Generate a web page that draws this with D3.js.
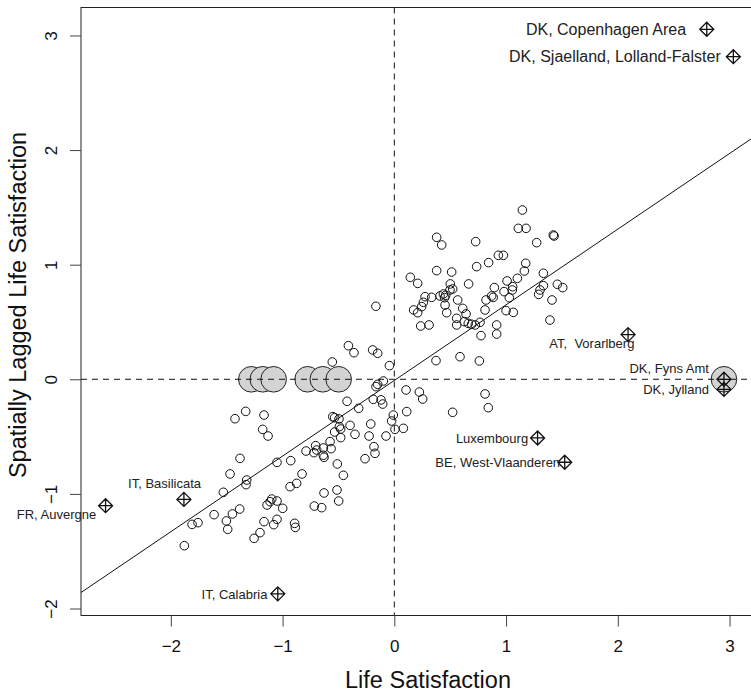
<!DOCTYPE html>
<html>
<head>
<meta charset="utf-8">
<script src="https://d3js.org/d3.v7.min.js"></script>
<style>
  body { margin: 0; background: #fff; }
  svg { font-family: 'Liberation Sans', Arial, Helvetica, sans-serif; }
</style>
</head>
<body>
<svg width="751" height="693"></svg>
<script>
// regions: standardised life satisfaction vs its spatial lag
const lifeSat = [
  1.146, 1.110, 1.179, 1.423, 1.430, 0.379, 0.424, 0.728, 1.274, 0.931,
  0.976, 1.176, 0.844, 0.737, 0.379, 0.513, 1.164, 1.334, 0.143, 1.101,
  1.009, 0.209, 0.665, 0.501, 1.459, 1.507, 1.334, 0.895, 1.059, 1.056,
  0.522, 0.498, 1.304, 1.292, 0.982, 0.439, 0.409, 0.460, 0.450, 0.275,
  0.334, 0.871, 0.885, 1.029, 0.821, 0.260, 0.567, 1.411, 0.245, 0.454,
  0.612, 0.173, 0.209, 0.812, 1.000, 1.065, 0.469, 0.642, 0.558, 1.393,
  0.627, 0.662, 0.692, 0.725, 0.767, 0.558, 0.311, 0.236, 0.916, 0.916,
  0.776, 0.588, 0.373, 0.761, -0.044,
  0.105, 0.224, 0.254, 0.812, 0.841, 0.522, 0.111, -0.009, -0.024, 0.006,
  0.081, -0.074,
  -0.165, -0.411, -0.361, -0.194, -0.149, -0.555,
  -0.098, -0.149, -0.164, -0.423, -0.188, -0.119, -0.104, -0.319, -0.551, -0.534,
  -0.495, -1.426, -1.330, -1.166, -1.178, -1.130, -0.396, -0.492, -0.480, -0.534,
  -0.352, -0.480, -0.211, -0.226, -0.575, -0.704, -0.695, -0.790, -0.719, -0.635,
  -0.566, -0.629, -0.635, -1.381, -1.050, -0.927, -0.510, -0.182, -0.173, -0.262,
  -1.470, -1.321, -1.327, -0.826, -0.874, -0.933, -0.456, -1.530, -0.513, -0.498,
  -0.629, -1.097, -1.139, -1.112, -1.050, -0.716, -0.650, -0.999, -1.613, -1.449,
  -1.384, -1.810, -1.757, -1.503, -1.491, -1.166, -1.050, -1.079, -0.892, -0.886,
  -1.202, -1.255, -1.879
];
const laggedSat = [
  1.477, 1.317, 1.317, 1.259, 1.250, 1.239, 1.172, 1.201, 1.192, 1.082,
  1.082, 1.012, 1.018, 0.983, 0.948, 0.936, 0.945, 0.925, 0.890, 0.881,
  0.858, 0.837, 0.832, 0.832, 0.829, 0.800, 0.817, 0.800, 0.808, 0.779,
  0.788, 0.779, 0.779, 0.741, 0.765, 0.744, 0.727, 0.733, 0.712, 0.721,
  0.715, 0.727, 0.714, 0.712, 0.692, 0.672, 0.692, 0.692, 0.634, 0.648,
  0.619, 0.605, 0.581, 0.605, 0.599, 0.584, 0.581, 0.570, 0.532, 0.517,
  0.503, 0.488, 0.480, 0.474, 0.497, 0.474, 0.474, 0.465, 0.474, 0.395,
  0.381, 0.197, 0.163, 0.160, 0.119,
  -0.093, -0.111, -0.172, -0.128, -0.248, -0.288, -0.282, -0.312, -0.364, -0.437,
  -0.428, -0.495,
  0.637, 0.293, 0.232, 0.256, 0.227, 0.151,
  -0.015, -0.044, -0.064, -0.192, -0.175, -0.180, -0.216, -0.253, -0.326, -0.335,
  -0.346, -0.344, -0.280, -0.312, -0.437, -0.495, -0.402, -0.413, -0.434, -0.460,
  -0.480, -0.509, -0.390, -0.495, -0.544, -0.579, -0.617, -0.626, -0.640, -0.599,
  -0.605, -0.681, -0.663, -0.690, -0.725, -0.710, -0.739, -0.588, -0.646, -0.693,
  -0.826, -0.879, -0.919, -0.826, -0.908, -0.937, -0.838, -0.986, -0.966, -1.062,
  -0.992, -1.045, -1.097, -1.068, -1.062, -1.106, -1.120, -1.126, -1.181, -1.175,
  -1.132, -1.266, -1.251, -1.236, -1.309, -1.242, -1.222, -1.268, -1.257, -1.292,
  -1.338, -1.388, -1.452
];

// regions without neighbours (lag = 0)
const islandSat = [-1.280, -1.177, -1.080, -0.776, -0.640, -0.498, 2.950];
const islandLag = [0, 0, 0, 0, 0, 0, 0];

// named outliers
const outlierNames = ['DK, Copenhagen Area', 'DK, Sjaelland, Lolland-Falster', 'AT,\u00a0 Vorarlberg',
  'DK, Fyns Amt', 'DK, Jylland', 'Luxembourg', 'BE, West-Vlaanderen', 'IT, Basilicata',
  'FR, Auvergne', 'IT, Calabria'];
const outlierSat = [2.796, 3.034, 2.092, 2.950, 2.950, 1.282, 1.525, -1.883, -2.584, -1.043];
const outlierLag = [3.054, 2.815, 0.390, 0.000, -0.088, -0.512, -0.724, -1.048, -1.103, -1.872];

const xTicks = [-2, -1, 0, 1, 2, 3];
const yTicks = [-2, -1, 0, 1, 2, 3];

// fitted slope (Moran's I) and intercept
const SLOPE = 0.66;
const INTERCEPT = -0.01;

// label placement relative to each marker (px)
const labelDx = [-20.7, -12.6, 6.3, -15, -15, -9.4, -4.6, -19.3, -9.3, -10.4];
const labelDy = [0, 0, 9, -11, 0, 0, 0, -16.3, 9, 0];
const labelAnchor = ['end', 'end', 'end', 'end', 'end', 'end', 'end', 'middle', 'end', 'end'];
const labelSize = [16, 16, 13, 13, 13, 13, 13, 13, 13, 13];

const PLOT = { left: 81, right: 752, top: 7.5, bottom: 615.5 };

const svg = d3.select('svg');

const x = d3.scaleLinear().domain([-2.804, 3.201]).range([PLOT.left, PLOT.right]);
const y = d3.scaleLinear().domain([-2.061, 3.244]).range([PLOT.bottom, PLOT.top]);

svg.append('clipPath').attr('id', 'plotclip')
  .append('rect')
  .attr('x', PLOT.left).attr('y', PLOT.top)
  .attr('width', PLOT.right - PLOT.left).attr('height', PLOT.bottom - PLOT.top);

const plot = svg.append('g').attr('clip-path', 'url(#plotclip)');

const points = lifeSat.map((v, i) => ({ x: v, y: laggedSat[i] }));
const islands = islandSat.map((v, i) => ({ x: v, y: islandLag[i] }));
const outliers = outlierNames.map((n, i) => ({ name: n, x: outlierSat[i], y: outlierLag[i], i: i }));

plot.selectAll('.pt')
  .data(points)
  .enter()
  .append('circle')
  .classed('pt', true)
  .attr('cx', d => x(d.x))
  .attr('cy', d => y(d.y))
  .attr('r', 4.3)
  .attr('fill', 'none')
  .attr('stroke', '#111')
  .attr('stroke-width', 1);

plot.selectAll('.island')
  .data(islands)
  .enter()
  .append('circle')
  .classed('island', true)
  .attr('cx', d => x(d.x))
  .attr('cy', d => y(d.y))
  .attr('r', 12.8)
  .attr('fill', '#d3d3d3')
  .attr('stroke', '#222')
  .attr('stroke-width', 1);

// quadrant lines
plot.append('line')
  .attr('x1', x(0)).attr('x2', x(0))
  .attr('y1', PLOT.top).attr('y2', PLOT.bottom)
  .attr('stroke', '#111').attr('stroke-dasharray', '6,5');
plot.append('line')
  .attr('x1', PLOT.left).attr('x2', PLOT.right)
  .attr('y1', y(0)).attr('y2', y(0))
  .attr('stroke', '#111').attr('stroke-dasharray', '6,5');

// regression line
const xd = x.domain();
plot.append('line')
  .attr('x1', x(xd[0])).attr('y1', y(INTERCEPT + SLOPE * xd[0]))
  .attr('x2', x(xd[1])).attr('y2', y(INTERCEPT + SLOPE * xd[1]))
  .attr('stroke', '#111').attr('stroke-width', 1);

// diamond with plus
const R = 7;
const diamondPlus = `M0,${-R}L${R},0L0,${R}L${-R},0Z M0,${-R}L0,${R} M${-R},0L${R},0`;

svg.selectAll('.outlier')
  .data(outliers)
  .enter()
  .append('path')
  .classed('outlier', true)
  .attr('d', diamondPlus)
  .attr('transform', d => `translate(${x(d.x)},${y(d.y)})`)
  .attr('fill', 'none')
  .attr('stroke', '#111')
  .attr('stroke-width', 1.3);

svg.selectAll('.olabel')
  .data(outliers)
  .enter()
  .append('text')
  .classed('olabel', true)
  .attr('x', d => x(d.x) + labelDx[d.i])
  .attr('y', d => y(d.y) + labelDy[d.i])
  .attr('dy', '0.36em')
  .attr('text-anchor', d => labelAnchor[d.i])
  .attr('font-size', d => labelSize[d.i])
  .attr('fill', '#222')
  .text(d => d.name);

// box
svg.append('rect')
  .attr('x', PLOT.left).attr('y', PLOT.top)
  .attr('width', PLOT.right - PLOT.left).attr('height', PLOT.bottom - PLOT.top)
  .attr('fill', 'none').attr('stroke', '#222').attr('stroke-width', 1);

// axes
const fmt = d3.format('d');

const xAxis = svg.append('g')
  .attr('transform', `translate(0,${PLOT.bottom})`)
  .call(d3.axisBottom(x).tickValues(xTicks).tickFormat(fmt).tickSize(11).tickSizeOuter(0));
xAxis.select('.domain').remove();
xAxis.selectAll('line').attr('stroke', '#444');
xAxis.selectAll('text')
  .attr('y', 36).attr('dy', 0)
  .attr('font-size', 17)
  .attr('fill', '#111');

const yAxis = svg.append('g')
  .attr('transform', `translate(${PLOT.left},0)`)
  .call(d3.axisLeft(y).tickValues(yTicks).tickFormat(fmt).tickSize(11).tickSizeOuter(0));
yAxis.select('.domain').remove();
yAxis.selectAll('line').attr('stroke', '#444');
yAxis.selectAll('text')
  .attr('x', 0).attr('y', 0).attr('dy', 0)
  .attr('text-anchor', 'middle')
  .attr('transform', 'translate(-24,0) rotate(-90)')
  .attr('font-size', 17)
  .attr('fill', '#111');
xAxis.attr('font-family', null);
yAxis.attr('font-family', null);

// titles
svg.append('text')
  .attr('x', 428).attr('y', 688)
  .attr('text-anchor', 'middle')
  .attr('font-size', 23.5)
  .attr('fill', '#111')
  .text('Life Satisfaction');

svg.append('text')
  .attr('transform', 'translate(26,305) rotate(-90)')
  .attr('text-anchor', 'middle')
  .attr('font-size', 23.5)
  .attr('fill', '#111')
  .text('Spatially Lagged Life Satisfaction');
</script>
</body>
</html>
